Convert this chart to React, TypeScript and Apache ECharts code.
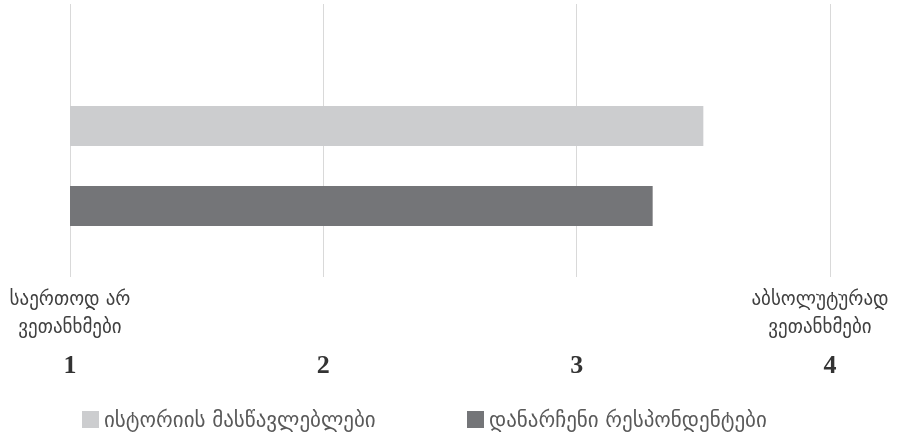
import React, { useEffect, useRef } from "react";
import * as echarts from "echarts";

const seriesNames = ["ისტორიის მასწავლებლები", "დანარჩენი რესპონდენტები"];
const seriesValues = [3.5, 3.3];
const seriesColors = ["#cccdcf", "#747578"];
const tickValues = [1, 2, 3, 4];
const lowCaption = ["საერთოდ არ", "ვეთანხმები"];
const highCaption = ["აბსოლუტურად", "ვეთანხმები"];

export default function App() {
  const ref = useRef<HTMLDivElement>(null);
  useEffect(() => {
    if (!ref.current) return;
    const chart = echarts.init(ref.current, null, { renderer: "svg" });
    const geo = "'DejaVu Sans', sans-serif";
    const legendBase = {
      top: 404,
      itemWidth: 17,
      itemHeight: 17,
      icon: "rect",
      textStyle: { fontFamily: geo, fontSize: 21, color: "#595959" },
    };
    chart.setOption({
      animation: false,
      grid: [
        { left: 70, right: 73, top: 4, height: 273, containLabel: false, outerBoundsMode: "none" },
        { left: 70, right: 73, top: 66, height: 200, containLabel: false, outerBoundsMode: "none" },
      ],
      xAxis: [
        {
          gridIndex: 0,
          type: "value",
          min: tickValues[0],
          max: tickValues[tickValues.length - 1],
          interval: 1,
          axisLine: { show: false },
          axisTick: { show: false },
          splitLine: { show: true, lineStyle: { color: "#d9d9d9", width: 1 } },
          axisLabel: {
            margin: 7,
            formatter: (v: number) => {
              if (v === tickValues[0])
                return `{t|${lowCaption[0]}}\n{t|${lowCaption[1]}}\n{n|${v}}`;
              if (v === tickValues[tickValues.length - 1])
                return `{r|${highCaption[0]}}\n{r|${highCaption[1]}}\n{n|${v}}`;
              return `{t| }\n{t| }\n{n|${v}}`;
            },
            rich: {
              t: { fontFamily: geo, fontSize: 19, color: "#404040", lineHeight: 28 },
              r: { fontFamily: geo, fontSize: 19, color: "#404040", lineHeight: 28, padding: [0, 20, 0, 0] },
              n: {
                fontFamily: "'Liberation Serif', serif",
                fontWeight: "bold",
                fontSize: 26,
                color: "#333333",
                lineHeight: 48,
              },
            },
          },
        },
        {
          gridIndex: 1,
          type: "value",
          min: tickValues[0],
          max: tickValues[tickValues.length - 1],
          show: false,
        },
      ],
      yAxis: [
        { gridIndex: 0, type: "category", data: [""], show: false },
        { gridIndex: 1, type: "category", data: [""], inverse: true, show: false },
      ],
      legend: [
        { ...legendBase, left: 77, data: [seriesNames[0]] },
        { ...legendBase, left: 462, data: [seriesNames[1]] },
      ],
      series: seriesNames.map((name, i) => ({
        name,
        type: "bar",
        xAxisIndex: 1,
        yAxisIndex: 1,
        data: [seriesValues[i]],
        barWidth: 40,
        barGap: "100%",
        itemStyle: { color: seriesColors[i] },
      })),
    });
    return () => chart.dispose();
  }, []);
  return (
    <div
      ref={ref}
      style={{ position: "fixed", left: 0, top: 0, width: 903, height: 432 }}
    />
  );
}
